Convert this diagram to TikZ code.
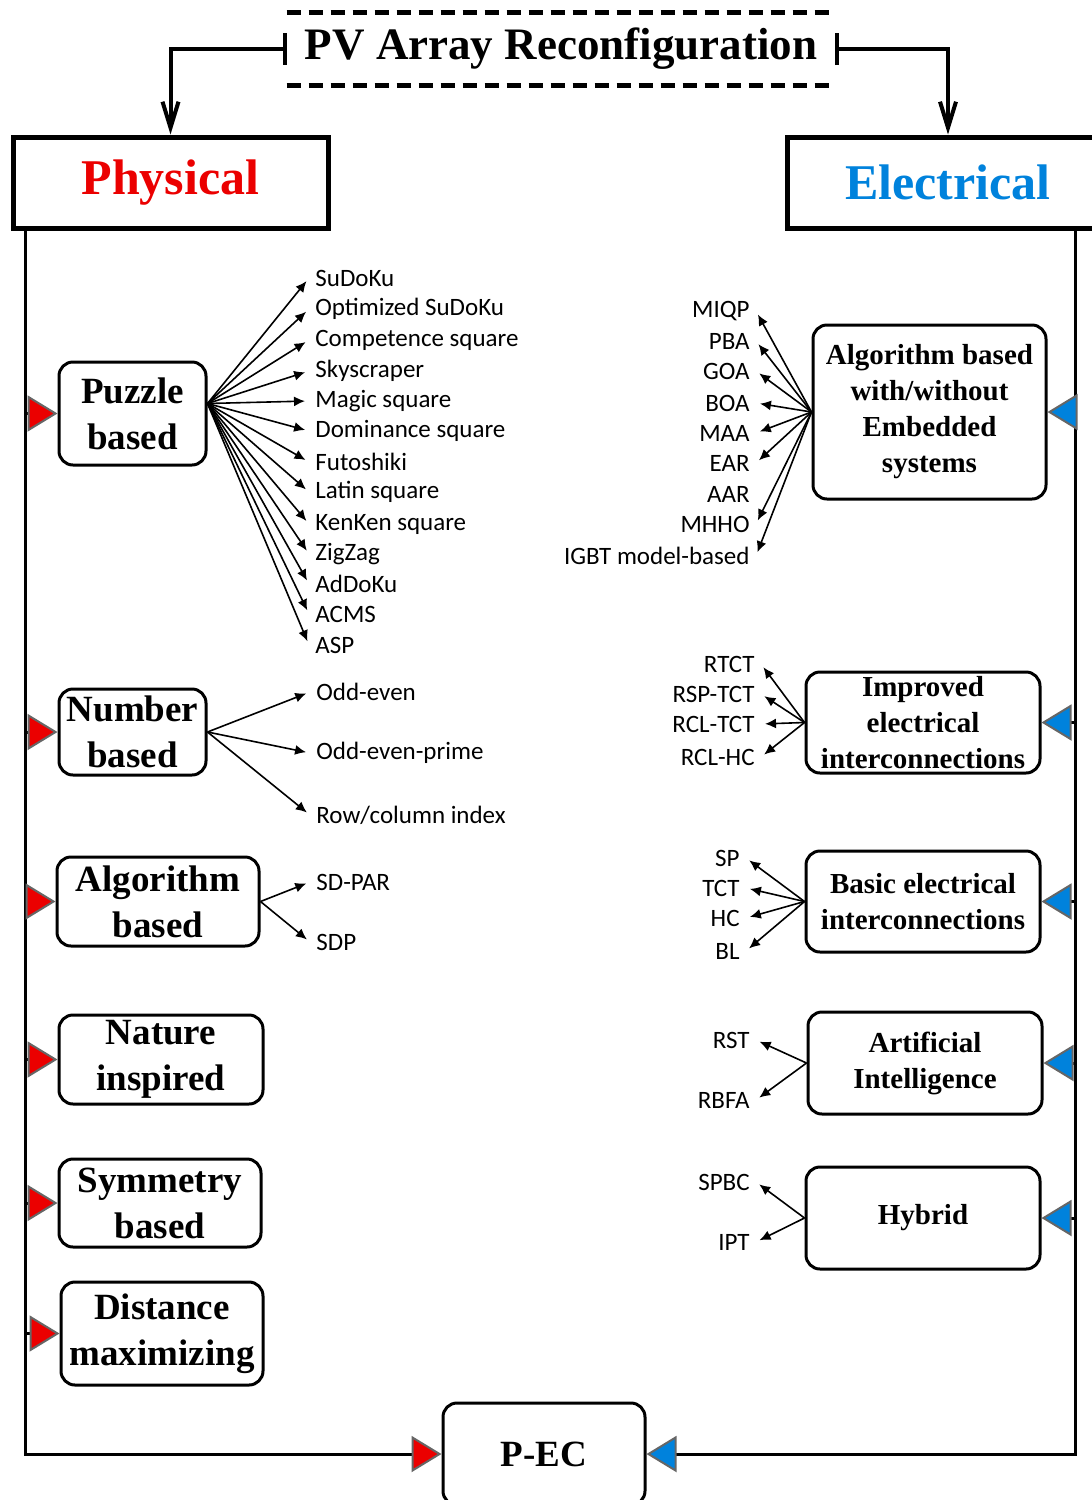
\documentclass[tikz,border=0pt]{standalone}
\usepackage{fontspec}
\setmainfont{Liberation Serif}
\newfontfamily\leaffont{Carlito}
\usepackage{xcolor}
\usetikzlibrary{arrows.meta,positioning}
\definecolor{physred}{RGB}{235,0,0}
\definecolor{elecblue}{RGB}{0,130,220}

\begin{document}
\begin{tikzpicture}[x=0.5pt,y=-0.5pt,
    mainbox/.style={draw, line width=2.5pt, inner sep=0pt, font=\bfseries\fontsize{25}{30}\selectfont},
    lbox/.style={draw, line width=1.5pt, rounded corners=7pt, inner sep=0pt, align=center, font=\bfseries\fontsize{18.5}{23}\selectfont},
    rbox/.style={draw, line width=1.5pt, rounded corners=7pt, inner sep=0pt, align=center, font=\bfseries\fontsize{14.5}{18}\selectfont},
    leaf/.style={inner sep=3pt, font=\leaffont\fontsize{12.5}{15}\selectfont},
    twig/.style={line width=0.8pt, shorten >=2pt, -{Latex[length=5.5pt,width=5pt]}},
    trunk/.style={line width=1.5pt},
    redtip/.style={trunk, -{Triangle[length=15pt,width=18pt,color=black!60,fill=physred,line width=1pt]}},
    bluetip/.style={trunk, -{Triangle[length=15pt,width=18pt,color=black!60,fill=elecblue,line width=1pt]}}]
    \useasboundingbox (0,0) rectangle (1092,1500);

    \node[inner sep=0pt, minimum width=274pt, minimum height=36pt, font=\bfseries\fontsize{22.5}{27}\selectfont] (title) at (561,49) {PV Array Reconfiguration};
    \draw[line width=2.5pt, dash pattern=on 7pt off 4pt] (title.north west) -- (title.north east) (title.south west) -- (title.south east);
    \node[mainbox, minimum width=157.5pt, minimum height=45.5pt, text=physred] (phys) at (170.5,182.5) {Physical};
    \node[mainbox, minimum width=161pt, minimum height=45.5pt, text=elecblue] (elec) at (948,182.5) {Electrical};
    \draw[line width=2pt, {Bar[width=16pt]}-{Straight Barb[length=13pt,width=8pt]}] (title.west) -| (phys.north);
    \draw[line width=2pt, {Bar[width=16pt]}-{Straight Barb[length=13pt,width=8pt]}] (title.east) -| (elec.north);

    \coordinate (ltop) at (25,228);
    \coordinate (rtop) at (1075,228);
    \node[lbox, minimum width=101pt, minimum height=51pt] (pec) at (544,1454) {P-EC};
    \draw[redtip] (ltop) |- (pec.west);
    \draw[bluetip] (rtop) |- (pec.east);

    \node[lbox, minimum width=73.5pt, minimum height=51.5pt] (puzzle) at (132.5,413.5) {Puzzle\\based};
    \node[lbox, minimum width=73.5pt, minimum height=43pt] (number) at (132.5,732) {Number\\based};
    \node[lbox, minimum width=101pt, minimum height=44.5pt] (algo) at (158,901.5) {Algorithm\\based};
    \node[lbox, minimum width=102pt, minimum height=44.5pt] (nature) at (161,1059.5) {Nature\\inspired};
    \node[lbox, minimum width=101pt, minimum height=44pt] (sym) at (160,1203) {Symmetry\\based};
    \node[lbox, minimum width=101pt, minimum height=51.5pt] (dist) at (162,1333.5) {Distance\\maximizing};
    \foreach \b in {puzzle,number,algo,nature,sym,dist}
        \draw[redtip] (ltop |- \b.west) -- (\b.west);

    \node[rbox, minimum width=116.5pt, minimum height=87pt] (alge) at (929.5,412) {Algorithm based\\with/without\\Embedded\\systems};
    \node[rbox, minimum width=117pt, minimum height=50.5pt] (improved) at (923,722.5) {Improved\\electrical\\interconnections};
    \node[rbox, minimum width=117pt, minimum height=50.5pt] (basic) at (923,901.5) {Basic electrical\\interconnections};
    \node[rbox, minimum width=117pt, minimum height=51pt] (ai) at (925,1063) {Artificial\\Intelligence};
    \node[rbox, minimum width=117pt, minimum height=51pt] (hybrid) at (923,1218) {Hybrid};
    \foreach \b in {alge,improved,basic,ai,hybrid}
        \draw[bluetip] (rtop |- \b.east) -- (\b.east);

    \coordinate (pz) at ([yshift=5pt]puzzle.east);
    \foreach \i/\y/\t in {1/278/SuDoKu, 2/309/Optimized SuDoKu, 3/340/Competence square, 4/371/Skyscraper,
        5/401/Magic square, 6/431/Dominance square, 7/462/Futoshiki, 8/492/Latin square, 9/524/KenKen square,
        10/554/ZigZag, 11/584/AdDoKu, 12/614/ACMS, 13/645/ASP} {
        \node[leaf, anchor=west] (pz\i) at (309,\y) {\t};
        \draw[twig] (pz) -- (pz\i.west);
    }
    \foreach \i/\y/\t in {1/692/Odd-even, 2/753/Odd-even-prime, 3/815/{Row/column index}} {
        \node[leaf, anchor=west] (nb\i) at (310,\y) {\t};
        \draw[twig] (number.east) -- (nb\i.west);
    }
    \foreach \i/\y/\t in {1/882/SD-PAR, 2/942/SDP} {
        \node[leaf, anchor=west] (ab\i) at (310,\y) {\t};
        \draw[twig] (algo.east) -- (ab\i.west);
    }

    \foreach \i/\y/\t in {1/311/MIQP, 2/341/PBA, 3/371/GOA, 4/403/BOA, 5/433/MAA, 6/463/EAR, 7/494/AAR,
        8/524/MHHO, 9/556/IGBT model-based}
        \node[leaf, anchor=east] (ae\i) at (756,\y) {\t};
    \foreach \i in {1,2,3,4,5,6,8,9}
        \draw[twig] (alge.west) -- (ae\i.east);
    \foreach \i/\y/\t in {1/664/RTCT, 2/694/RSP-TCT, 3/724/RCL-TCT, 4/757/RCL-HC} {
        \node[leaf, anchor=east] (ie\i) at (761,\y) {\t};
        \draw[twig] (improved.west) -- (ie\i.east);
    }
    \foreach \i/\y/\t in {1/858/SP, 2/888/TCT, 3/918/HC, 4/951/BL} {
        \node[leaf, anchor=east] (be\i) at (746,\y) {\t};
        \draw[twig] (basic.west) -- (be\i.east);
    }
    \foreach \i/\y/\t in {1/1040/RST, 2/1100/RBFA} {
        \node[leaf, anchor=east] (ie\i) at (756,\y) {\t};
        \draw[twig] (ai.west) -- (ie\i.east);
    }
    \foreach \i/\y/\t in {1/1182/SPBC, 2/1242/IPT} {
        \node[leaf, anchor=east] (he\i) at (756,\y) {\t};
        \draw[twig] (hybrid.west) -- (he\i.east);
    }
\end{tikzpicture}
\end{document}
